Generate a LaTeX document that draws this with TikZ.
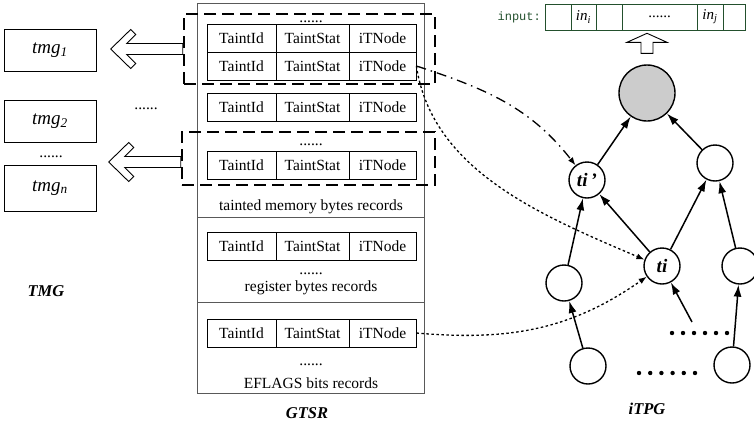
\documentclass[tikz,border=0pt]{standalone}
\usepackage{fontspec}
\setmainfont{Liberation Serif}
\setmonofont{Liberation Mono}
\usetikzlibrary{arrows.meta}
\definecolor{arraygreen}{RGB}{35,80,45}

\begin{document}
\begin{tikzpicture}[x=1pt, y=1pt,
  every node/.style={inner sep=0pt, font=\fontsize{15.5}{18}\selectfont},
  cell/.style={draw, line width=0.8pt, minimum height=28pt},
  section/.style={draw=black!65, line width=1pt, minimum width=227pt},
  tmgbox/.style={draw, line width=0.8pt, minimum width=92pt, minimum height=42pt, font=\fontsize{19}{20}\selectfont\itshape},
  groupbox/.style={draw, line width=2.6pt, dash pattern=on 12pt off 6pt},
  hollow/.style={draw, line width=0.9pt, fill=white},
  incell/.style={draw=arraygreen, line width=1pt, minimum height=26pt, font=\fontsize{15}{18}\selectfont\itshape},
  vertex/.style={circle, draw, line width=1.4pt, minimum size=36pt, font=\fontsize{19}{20}\selectfont\bfseries\itshape},
  edge/.style={line width=1.5pt, -{Latex[length=12pt,width=8pt]}},
  link/.style={line width=1.3pt, -{Latex[length=8pt,width=6pt]}},
  caption/.style={font=\fontsize{16.5}{20}\selectfont\bfseries\itshape}]
\useasboundingbox (0,0) rectangle (754,-426);

% TMG
\node[tmgbox] (tmg1) at (50,-50) {tmg\textsubscript{1}};
\node[tmgbox] (tmg2) at (50,-121) {tmg\textsubscript{2}};
\node[tmgbox, minimum height=46pt] (tmgn) at (50,-188) {tmg\textsubscript{n}};
\node[anchor=base] (tmgdots) at (51,-157) {......};
\node[anchor=base] (middots) at (146,-109) {......};
\node[caption] (tmglabel) at (46,-291) {TMG};

% GTSR
\node[section, minimum height=214pt] (sec1) at (310.5,-110) {};
\node[section, minimum height=85pt] (sec2) at (310.5,-259.5) {};
\node[section, minimum height=91pt] (sec3) at (310.5,-347.5) {};
\foreach \r/\y in {a/38, b/66, c/107, d/165, e/246, f/333} {
  \node[cell, minimum width=69pt] (\r1) at (241.5,-\y) {TaintId};
  \node[cell, minimum width=73pt] (\r2) at (312.5,-\y) {TaintStat};
  \node[cell, minimum width=67pt] (\r3) at (382.5,-\y) {iTNode};
}
\node[anchor=base] (topdots) at (311,-22) {......};
\node[anchor=base] (memdots) at (311,-145) {......};
\node[anchor=base] (regdots) at (311,-274) {......};
\node[anchor=base] (efldots) at (311,-365) {......};
\node (mem) at (311,-207) {tainted memory bytes records};
\node (reg) at (311,-288) {register bytes records};
\node (efl) at (311,-383) {EFLAGS bits records};
\node[caption] (gtsrlabel) at (307,-413) {GTSR};

\node[groupbox, minimum width=251pt, minimum height=70pt] (grpA) at (309.5,-49) {};
\node[groupbox, minimum width=253pt, minimum height=53pt] (grpB) at (308.5,-158.5) {};

\draw[hollow] (grpA.west) ++(0,5.5) -- ++(-56,0) -- ++(9,9) -- ++(-5,5) -- ++(-20,-19.5)
  -- ++(20,-19.5) -- ++(5,5) -- ++(-9,9) -- ++(56,0) -- cycle;
\draw[hollow] ([yshift=-3.5pt]grpB.west) ++(0,5.5) -- ++(-56,0) -- ++(9,9) -- ++(-5,5) -- ++(-20,-19.5)
  -- ++(20,-19.5) -- ++(5,5) -- ++(-9,9) -- ++(56,0) -- cycle;

% input
\node[font=\fontsize{12}{14}\ttfamily, text=arraygreen, anchor=east] (input) at (541,-17) {input:};
\foreach \n/\x/\w/\t in {in1/558/26/{}, in2/583.5/25/{in\textsubscript{i}}, in3/609/26/{},
  in4/659.5/75/{\upshape......}, in5/710/26/{in\textsubscript{j}}, in6/734/22/{}}
  \node[incell, minimum width=\w pt] (\n) at (\x,-17) {\t};

% iTPG
\node[vertex, fill=black!20, minimum size=56pt] (root) at (647,-93) {};
\node[vertex] (tip) at (587,-180) {ti\,'};
\node[vertex] (ru) at (715,-163) {};
\node[vertex] (ti) at (662,-266) {ti};
\node[vertex] (lm) at (564,-283) {};
\node[vertex] (rm) at (740,-266) {};
\node[vertex] (bl) at (588,-366) {};
\node[vertex] (br) at (732,-365) {};
\coordinate (dA) at (692,-322);
\foreach \i in {0,...,5} {
  \fill (672+11*\i,-333) circle (2.2);
  \fill (639+11.2*\i,-373) circle (2.2);
}
\foreach \a/\b in {tip/root, ru/root, lm/tip, ti/tip, ti/ru, rm/ru, bl/lm, br/rm, dA/ti}
  \draw[edge] (\a) -- (\b);
\draw[hollow] ([yshift=11pt]root.north) -- ++(-6,0) -- ++(0,11) -- ++(-14,0) -- ++(20,9)
  -- ++(20,-9) -- ++(-14,0) -- ++(0,-11) -- cycle;
\node[caption] (itpglabel) at (647,-409) {iTPG};

% links
\draw[link, dash pattern=on 10pt off 5pt on 1.5pt off 5pt] (b3.east) to[out=-18, in=128] (tip);
\draw[link, dash pattern=on 2.5pt off 2.5pt] (b3.east) .. controls (432,-170) and (540,-215) .. (ti.160);
\draw[link, dash pattern=on 2.5pt off 2.5pt] (f3.east) to[out=-5, in=215] (ti);
\end{tikzpicture}
\end{document}
